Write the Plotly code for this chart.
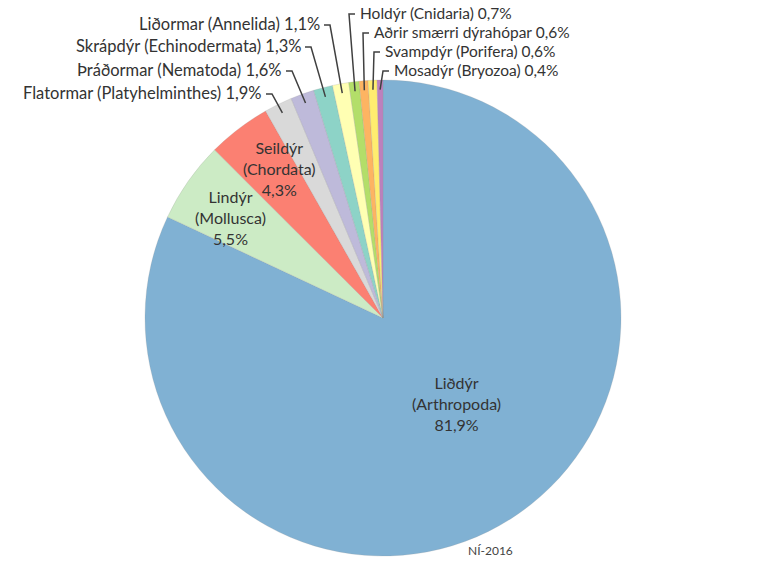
import math
import plotly.graph_objects as go

# ---- data ----
labels = ["Liðdýr (Arthropoda)", "Lindýr (Mollusca)", "Seildýr (Chordata)",
          "Flatormar (Platyhelminthes)", "Þráðormar (Nematoda)", "Skrápdýr (Echinodermata)",
          "Liðormar (Annelida)", "Holdýr (Cnidaria)", "Aðrir smærri dýrahópar",
          "Svampdýr (Porifera)", "Mosadýr (Bryozoa)"]
values = [81.9, 5.5, 4.3, 1.9, 1.6, 1.3, 1.1, 0.7, 0.6, 0.6, 0.4]
value_text = ["81,9%", "5,5%", "4,3%", "1,9%", "1,6%", "1,3%", "1,1%", "0,7%", "0,6%", "0,6%", "0,4%"]
colors = ["#80B1D3", "#CCEBC5", "#FB8072", "#D9D9D9", "#BEBADA", "#8DD3C7",
          "#FFFFB3", "#B3DE69", "#FDB462", "#FFED6F", "#BC80BD"]

W, H = 768, 563
CX, CY, R = 383, 318, 238    # pie centre / radius in window pixels
FONT = "Lato, 'Open Sans', sans-serif"
TXT = "#333333"

def px(x, y):
    return x / W, 1 - y / H

def rim(i, f):
    tot = sum(values)
    cum = sum(values[:i]) + values[i] / 2
    th = 2 * math.pi * cum / tot
    return CX + f * R * math.sin(th), CY - f * R * math.cos(th)

x0, y0 = px(CX - R, CY + R)
x1, y1 = px(CX + R, CY - R)
fig = go.Figure(go.Pie(
    labels=labels, values=values, sort=False, direction="clockwise", rotation=0,
    marker=dict(colors=colors, line=dict(color="rgba(150,150,150,0.35)", width=0.6)),
    textinfo="none", hoverinfo="label+percent",
    domain=dict(x=[x0, x1], y=[y0, y1]),
    showlegend=False,
))

annotations = []
shapes = []

# inside labels (text-block centres in px)
inside = {0: (456, 403), 1: (230, 217), 2: (279, 168)}
for i, (x, y) in inside.items():
    name, sci = labels[i].split(" (")
    xx, yy = px(x, y)
    annotations.append(dict(x=xx, y=yy, xref="paper", yref="paper", showarrow=False,
                            text=f"{name}<br>({sci}<br>{value_text[i]}", align="center",
                            xanchor="center", yanchor="middle",
                            font=dict(family=FONT, size=16, color=TXT)))

# outside labels: (index, side, text edge x, y, font size)
outside = [(3, "l", 264, 93, 16.5), (4, "l", 284, 70, 16.5), (5, "l", 303, 46, 16.5),
           (6, "l", 322, 24, 16.5),
           (7, "r", 358, 13, 15.5), (8, "r", 372, 32, 15.5), (9, "r", 383, 51, 15.5),
           (10, "r", 392, 70, 15.5)]
for i, side, x, y, fs in outside:
    xx, yy = px(x, y)
    annotations.append(dict(x=xx, y=yy, xref="paper", yref="paper", showarrow=False,
                            text=f"{labels[i]} {value_text[i]}",
                            xanchor="right" if side == "l" else "left", yanchor="middle",
                            font=dict(family=FONT, size=fs, color=TXT)))
    ex, ey = rim(i, 0.96)
    if side == "l":
        p0 = (x + 2, y + 1)
        p1 = (x + 8, y + 1)
    else:
        p0 = (x - 3, y + 1)
        p1 = (x - 9, y + 1)
    pts = [px(*p0), px(*p1), px(ex, ey)]
    path = "M {} {} L {} {} L {} {}".format(*[c for p in pts for c in p])
    shapes.append(dict(type="path", path=path, xref="paper", yref="paper",
                       line=dict(color="#404040", width=1.5)))

nx, ny = px(490, 550)
annotations.append(dict(x=nx, y=ny, xref="paper", yref="paper", showarrow=False,
                        text="NÍ-2016", xanchor="center", yanchor="middle",
                        font=dict(family=FONT, size=12, color="#444444")))

fig.update_layout(width=W, height=H, margin=dict(l=0, r=0, t=0, b=0),
                  paper_bgcolor="white", plot_bgcolor="white",
                  annotations=annotations, shapes=shapes)
fig.write_html("out.html", config={"displayModeBar": False},
               post_script="document.body.style.margin='0';document.body.style.overflow='hidden';")
